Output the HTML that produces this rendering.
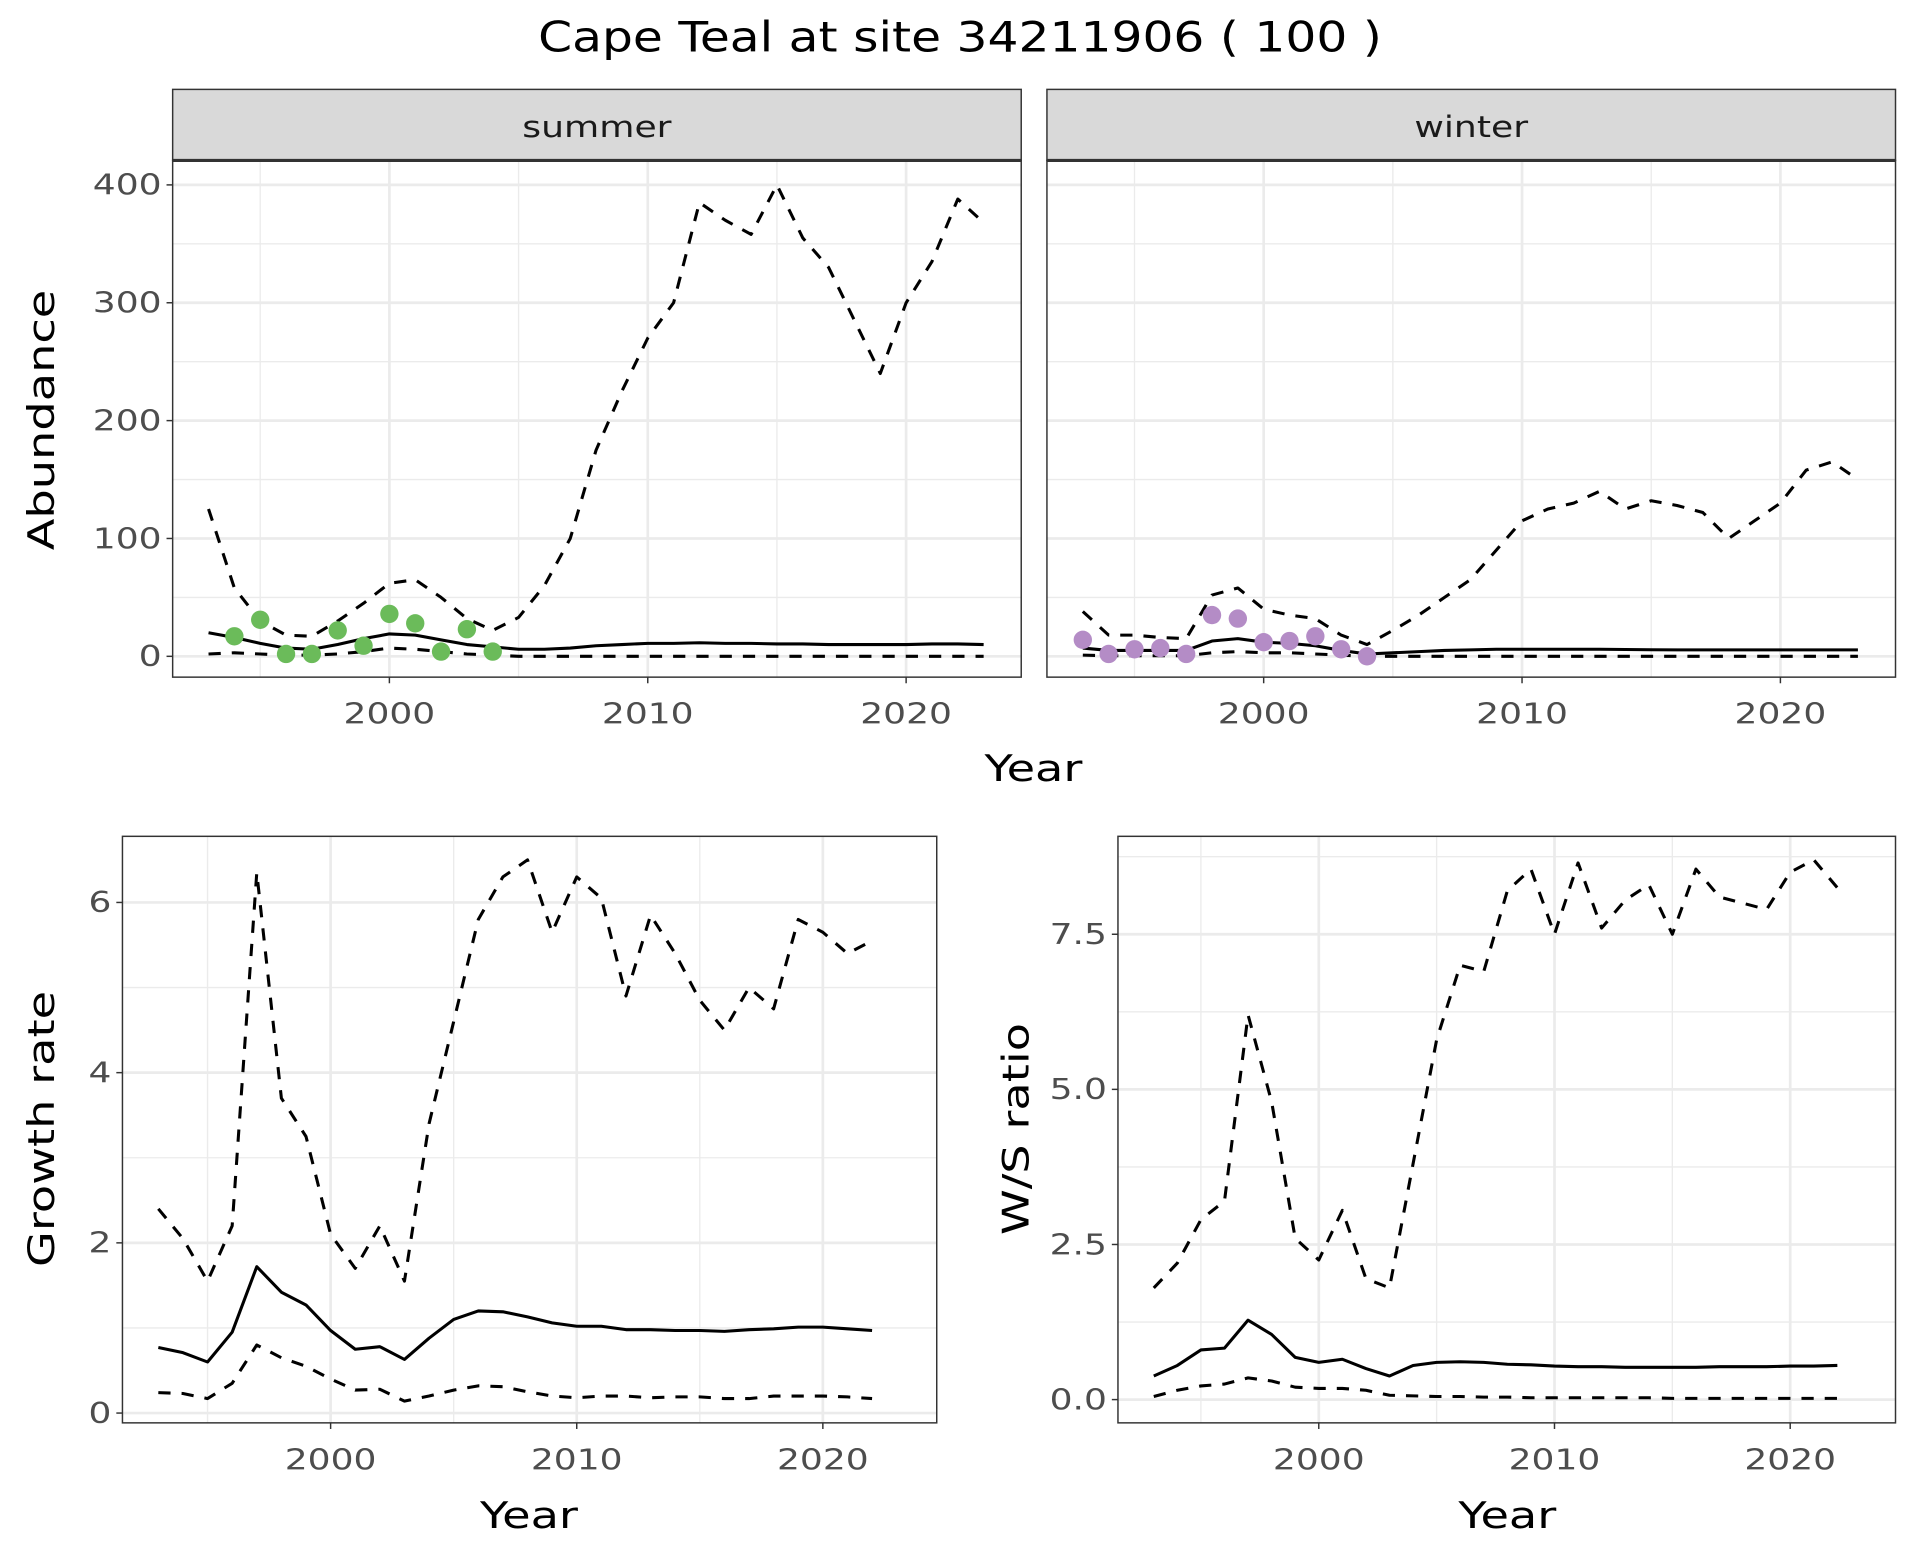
<!DOCTYPE html>
<html><head><meta charset="utf-8"><style>
html,body{margin:0;padding:0;background:#fff;}
svg{display:block;font-family:"DejaVu Sans","Liberation Sans",sans-serif;}
</style></head><body>
<svg id="chart" width="1920" height="1560" viewBox="0 0 1568 1274" xmlns="http://www.w3.org/2000/svg">
<rect x="0" y="0" width="1568" height="1274" fill="#fff"/>
<text data-w="1.17" x="784" y="42" text-anchor="middle" font-size="34" fill="#000">Cape Teal at site 34211906 ( 100 )</text>
</svg>
<script>
const yearsAbund = [1993,1994,1995,1996,1997,1998,1999,2000,2001,2002,2003,2004,2005,2006,2007,2008,2009,2010,2011,2012,2013,2014,2015,2016,2017,2018,2019,2020,2021,2022,2023];
const summerUpper = [125,58,30,18,17,30,45,62,65,50,32,22,33,60,100,175,225,270,300,385,370,358,400,355,330,285,240,300,335,388,368];
const summerMean = [20,16,11,7,6,10,15,19,18,14,10,8,6,6,7,9,10,11,11,11.5,11,11,10.5,10.5,10,10,10,10,10.5,10.5,10];
const summerLower = [2,3,2,1,1,2,4,7,6,4,2,1,0,0,0,0,0,0,0,0,0,0,0,0,0,0,0,0,0,0,0];
const summerPtYears = [1994,1995,1996,1997,1998,1999,2000,2001,2002,2003,2004];
const summerPts = [17,31,2,2,22,9,36,28,4,23,4];
const winterUpper = [38,18,18,16,15,52,58,40,35,32,18,10,22,35,50,65,90,115,125,130,140,125,132,128,122,100,115,130,158,165,150];
const winterMean = [7,5,5,5,5,13,15,12,11,9,5,2,3,4,5,5.5,6,6,6,6,6,5.8,5.6,5.5,5.5,5.5,5.5,5.5,5.5,5.5,5.5];
const winterLower = [1,0.5,0.5,0.5,0.5,3,4,3,3,2,1,0,0,0,0,0,0,0,0,0,0,0,0,0,0,0,0,0,0,0,0];
const winterPtYears = [1993,1994,1995,1996,1997,1998,1999,2000,2001,2002,2003,2004];
const winterPts = [14,2,6,7,2,35,32,12,13,17,6,0];
const yearsRate = [1993,1994,1995,1996,1997,1998,1999,2000,2001,2002,2003,2004,2005,2006,2007,2008,2009,2010,2011,2012,2013,2014,2015,2016,2017,2018,2019,2020,2021,2022];
const growthUpper = [2.4,2.05,1.55,2.2,6.35,3.7,3.25,2.1,1.7,2.2,1.55,3.4,4.6,5.8,6.3,6.5,5.65,6.3,6.05,4.9,5.85,5.4,4.85,4.5,5.0,4.75,5.8,5.65,5.4,5.55];
const growthMean = [0.77,0.71,0.6,0.95,1.72,1.42,1.27,0.97,0.75,0.78,0.63,0.88,1.1,1.2,1.19,1.13,1.06,1.02,1.02,0.98,0.98,0.97,0.97,0.96,0.98,0.99,1.01,1.01,0.99,0.97];
const growthLower = [0.24,0.23,0.17,0.35,0.8,0.65,0.55,0.4,0.27,0.28,0.14,0.2,0.27,0.32,0.31,0.25,0.2,0.18,0.2,0.2,0.18,0.19,0.19,0.17,0.17,0.2,0.2,0.2,0.19,0.17];
const ratioUpper = [1.8,2.2,2.9,3.2,6.2,4.8,2.6,2.25,3.05,1.95,1.8,3.8,5.8,7.0,6.9,8.2,8.55,7.5,8.65,7.6,8.05,8.3,7.5,8.55,8.1,8.0,7.9,8.5,8.7,8.25];
const ratioMean = [0.38,0.55,0.8,0.83,1.28,1.05,0.68,0.6,0.65,0.5,0.38,0.55,0.6,0.61,0.6,0.57,0.56,0.54,0.53,0.53,0.52,0.52,0.52,0.52,0.53,0.53,0.53,0.54,0.54,0.55];
const ratioLower = [0.05,0.15,0.22,0.25,0.35,0.3,0.2,0.18,0.18,0.15,0.07,0.06,0.05,0.05,0.04,0.04,0.03,0.03,0.03,0.03,0.03,0.03,0.02,0.02,0.02,0.02,0.02,0.02,0.02,0.02];
const xTicks = [2000,2010,2020];
const abundTicks = [0,100,200,300,400];
const growthTicks = [0,2,4,6];
const ratioTicks = [0,2.5,5,7.5];
const ratioTickLabels = ["0.0","2.5","5.0","7.5"];

const svg = document.getElementById('chart');
const NS = 'http://www.w3.org/2000/svg';
function el(tag, attrs, parent){const e=document.createElementNS(NS,tag);for(const k in attrs)e.setAttribute(k,attrs[k]);(parent||svg).appendChild(e);return e;}

function panel(cfg){
  const g = el('g',{});
  
  
  const {x0,x1,y0,y1} = cfg;
  const sx = v => cfg.xa + (v - 2000) * cfg.xs;
  const sy = v => cfg.ya - v * cfg.ys;
  el('rect',{x:x0,y:y0,width:x1-x0,height:y1-y0,fill:'#fff'},g);
  for (let v = cfg.xmin; v <= cfg.xmax; v += 5) {
    if (v % 10 === 0) continue; const X=sx(v); if(X<x0||X>x1) continue;
    el('line',{x1:X,x2:X,y1:y0,y2:y1,stroke:'#EBEBEB','stroke-width':1.1},g);
  }
  for (let i=0;i<cfg.yticks.length-1;i++){const v=(cfg.yticks[i]+cfg.yticks[i+1])/2;
    el('line',{x1:x0,x2:x1,y1:sy(v),y2:sy(v),stroke:'#EBEBEB','stroke-width':1.1},g);}
  const last=cfg.yticks[cfg.yticks.length-1], step=cfg.yticks[1]-cfg.yticks[0];
  if (sy(last+step/2) > y0) el('line',{x1:x0,x2:x1,y1:sy(last+step/2),y2:sy(last+step/2),stroke:'#EBEBEB','stroke-width':1.1},g);
  xTicks.forEach(v=>{el('line',{x1:sx(v),x2:sx(v),y1:y0,y2:y1,stroke:'#EBEBEB','stroke-width':2.2},g);});
  cfg.yticks.forEach(v=>{el('line',{x1:x0,x2:x1,y1:sy(v),y2:sy(v),stroke:'#EBEBEB','stroke-width':2.2},g);});
  cfg.series.forEach(s=>{
    const d = s.vals.map((v,i)=>(i?'L':'M')+sx(s.years[i]).toFixed(2)+','+sy(v).toFixed(2)).join(' ');
    const p = el('path',{d:d,fill:'none',stroke:'#000','stroke-width':2.5,'stroke-linejoin':'round'},g);
    if (s.dash) p.setAttribute('stroke-dasharray','10 9');
    
    
  });
  if (cfg.points) cfg.points.vals.forEach((v,i)=>{
    const c = el('circle',{cx:sx(cfg.points.years[i]),cy:sy(v),r:7.5,fill:cfg.points.color},g);
    
    
  });
  el('rect',{x:x0,y:y0,width:x1-x0,height:y1-y0,fill:'none',stroke:'#333','stroke-width':1.2},g);
  xTicks.forEach(v=>{
    el('line',{x1:sx(v),x2:sx(v),y1:y1,y2:y1+5,stroke:'#333','stroke-width':1.2},g);
    const t = el('text',{x:sx(v),y:y1+38,'text-anchor':'middle','font-size':23,fill:'#4D4D4D','data-w':1.28},g);
    t.textContent = v;
    
    
  });
  if (cfg.showY) cfg.yticks.forEach((v,i)=>{
    el('line',{x1:x0-5,x2:x0,y1:sy(v),y2:sy(v),stroke:'#333','stroke-width':1.2},g);
    const t = el('text',{x:x0-9,y:sy(v)+8,'text-anchor':'end','font-size':23,fill:'#4D4D4D','data-w':1.28},g);
    t.textContent = cfg.ylabels ? cfg.ylabels[i] : v;
    
    
  });
  if (cfg.strip){
    el('rect',{x:x0,y:73,width:x1-x0,height:y0-73,fill:'#D9D9D9',stroke:'#333','stroke-width':1.2},g);
    el('line',{x1:x0,x2:x1,y1:y0,y2:y0,stroke:'#333','stroke-width':2.6},g);
    const t = el('text',{x:(x0+x1)/2,y:112,'text-anchor':'middle','font-size':24,fill:'#1A1A1A','data-w':1.23},g);
    t.textContent = cfg.strip;
    
    
  }
  return {sx,sy};
}

panel({name:'summer-panel',x0:141,x1:834,y0:131,y1:553,xa:318,xs:21.1,ya:536,ys:0.9625,xmin:1990,xmax:2025,
  yticks:abundTicks,showY:true,strip:'summer',
  series:[{name:'summer-upper-ci',years:yearsAbund,vals:summerUpper,dash:true},{name:'summer-mean',years:yearsAbund,vals:summerMean},{name:'summer-lower-ci',years:yearsAbund,vals:summerLower,dash:true}],
  points:{years:summerPtYears,vals:summerPts,color:'#6BBB5A'}});
panel({name:'winter-panel',x0:855,x1:1548,y0:131,y1:553,xa:1032,xs:21.1,ya:536,ys:0.9625,xmin:1990,xmax:2025,
  yticks:abundTicks,showY:false,strip:'winter',
  series:[{name:'winter-upper-ci',years:yearsAbund,vals:winterUpper,dash:true},{name:'winter-mean',years:yearsAbund,vals:winterMean},{name:'winter-lower-ci',years:yearsAbund,vals:winterLower,dash:true}],
  points:{years:winterPtYears,vals:winterPts,color:'#B48CC6'}});
panel({name:'growth-rate-panel',x0:100,x1:765,y0:683,y1:1162,xa:270,xs:20.1,ya:1154,ys:69.5,xmin:1990,xmax:2025,
  yticks:growthTicks,showY:true,
  series:[{name:'growth-upper-ci',years:yearsRate,vals:growthUpper,dash:true},{name:'growth-mean',years:yearsRate,vals:growthMean},{name:'growth-lower-ci',years:yearsRate,vals:growthLower,dash:true}]});
panel({name:'ws-ratio-panel',x0:913,x1:1548,y0:683,y1:1162,xa:1077,xs:19.25,ya:1143,ys:50.67,xmin:1990,xmax:2025,
  yticks:ratioTicks,ylabels:ratioTickLabels,showY:true,
  series:[{name:'ratio-upper-ci',years:yearsRate,vals:ratioUpper,dash:true},{name:'ratio-mean',years:yearsRate,vals:ratioMean},{name:'ratio-lower-ci',years:yearsRate,vals:ratioLower,dash:true}]});

function label(txt,x,y,rot,name){
  const t = el('text',{x:x,y:y,'text-anchor':'middle','font-size':30,fill:'#000','data-w':1.26});
  if (rot) t.setAttribute('transform','rotate(-90 '+x+' '+y+')');
  t.textContent = txt;
  
  
}
label('Year',844,638,false,'x-axis-title-top');
label('Abundance',44,343,true,'y-axis-title-abundance');
label('Year',432,1248,false,'x-axis-title-growth');
label('Growth rate',44,922,true,'y-axis-title-growth');
label('Year',1231,1248,false,'x-axis-title-ratio');
label('W/S ratio',840,922,true,'y-axis-title-ratio');

document.querySelectorAll('text[data-w]').forEach(t=>{
  const f = parseFloat(t.getAttribute('data-w'));
  const L = t.getComputedTextLength();
  t.setAttribute('textLength', (L*f).toFixed(1));
  t.setAttribute('lengthAdjust','spacingAndGlyphs');
});
</script>
</body></html>
